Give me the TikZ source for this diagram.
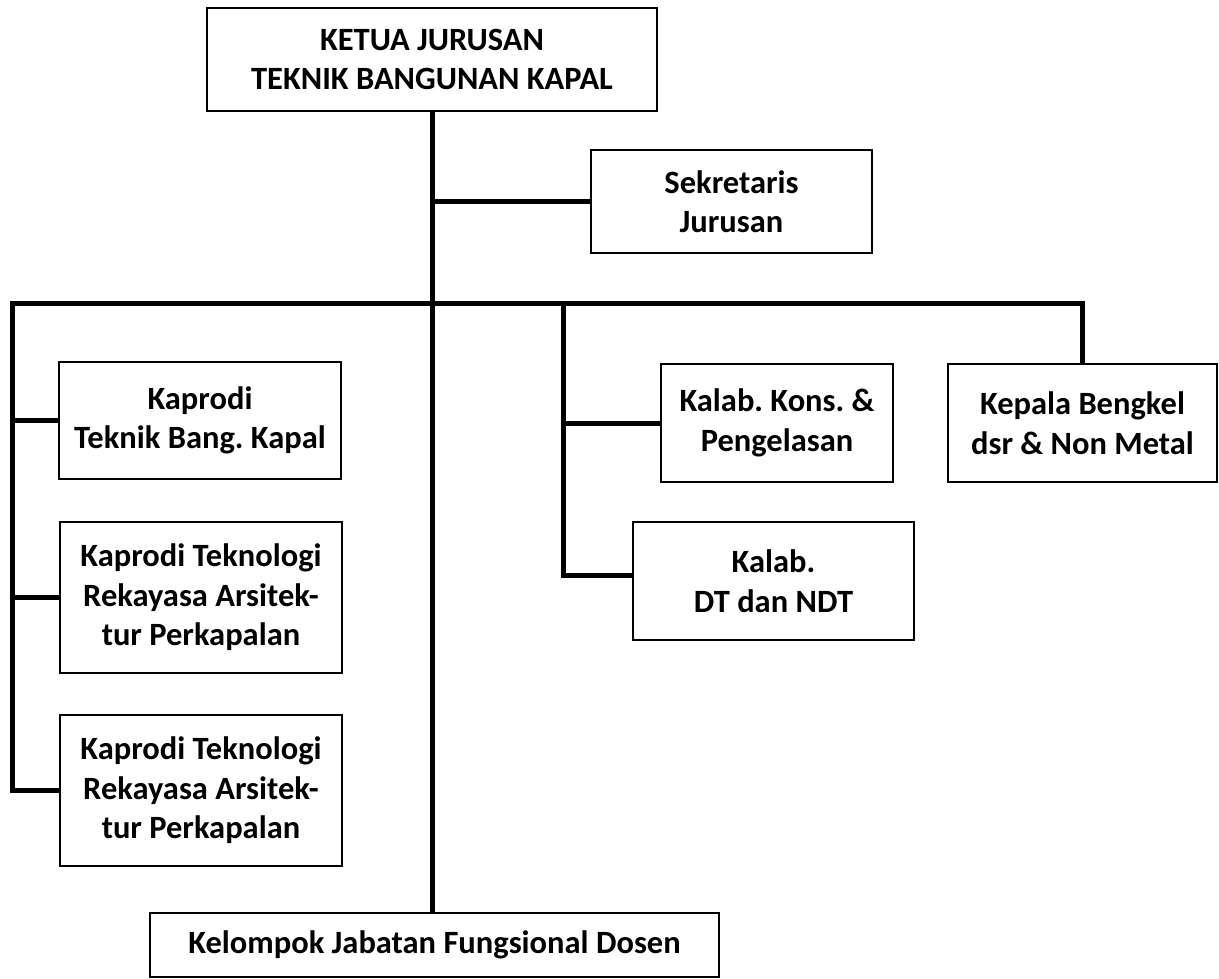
\documentclass[tikz,border=0pt]{standalone}
\usepackage{fontspec}
\setmainfont{Carlito}
\usepackage{tikz}
\frenchspacing

\begin{document}
\begin{tikzpicture}[x=1pt,y=-1pt,
    kotak/.style={draw=black,line width=1.2pt,inner sep=0pt,align=center,
      font=\fontsize{32.5}{39.5}\selectfont\bfseries},
    garis/.style={draw=black,line width=5pt}]

    \useasboundingbox (0,0) rectangle (1219,978);

    % pimpinan
    \node[kotak,minimum width=450pt,minimum height=103pt] (ketua) at (432,59.5)
    {KETUA JURUSAN \\ TEKNIK BANGUNAN KAPAL};

    \node[kotak,minimum width=281pt,minimum height=103pt] (sekre) at (731.5,201.5)
    {Sekretaris \\ Jurusan};

    % program studi
    \node[kotak,minimum width=282pt,minimum height=117pt] (kaprodiA) at (200,420.5)
    {Kaprodi \\ Teknik Bang. Kapal};

    \node[kotak,minimum width=282pt,minimum height=151pt] (kaprodiB) at (201,597.5)
    {Kaprodi Teknologi \\ Rekayasa Arsitek- \\ tur Perkapalan};

    \node[kotak,minimum width=282pt,minimum height=151pt] (kaprodiC) at (201,790.5)
    {Kaprodi Teknologi \\ Rekayasa Arsitek- \\ tur Perkapalan};

    % laboratorium dan bengkel
    \node[kotak,minimum width=232pt,minimum height=118pt] (kalabA) at (777,423)
    {Kalab. Kons. \& \\ Pengelasan};

    \node[kotak,minimum width=281pt,minimum height=118pt] (kalabB) at (773.5,581)
    {Kalab. \\ DT dan NDT};

    \node[kotak,minimum width=269pt,minimum height=118pt] (bengkel) at (1082.5,423)
    {Kepala Bengkel \\ dsr \& Non Metal};

    \node[kotak,minimum width=569pt,minimum height=64pt] (dosen) at (434.5,945)
    {Kelompok Jabatan Fungsional Dosen};

    % garis
    \coordinate (barL) at (12,303);
    \coordinate (barM) at (563,303);

    \draw[garis] (ketua.south) -- (ketua.south |- dosen.north);
    \draw[garis] (ketua.south |- sekre.west) -- (sekre.west);

    \draw[garis] (kaprodiC.west) -| (barL) -| (bengkel.north);
    \draw[garis] (kaprodiA.west) -- (kaprodiA.west -| barL);
    \draw[garis] (kaprodiB.west) -- (kaprodiB.west -| barL);

    \draw[garis] (barM) |- ([yshift=6pt]kalabB.west);
    \draw[garis] (barM |- kalabA.west) -- (kalabA.west);

  \end{tikzpicture}
\end{document}
